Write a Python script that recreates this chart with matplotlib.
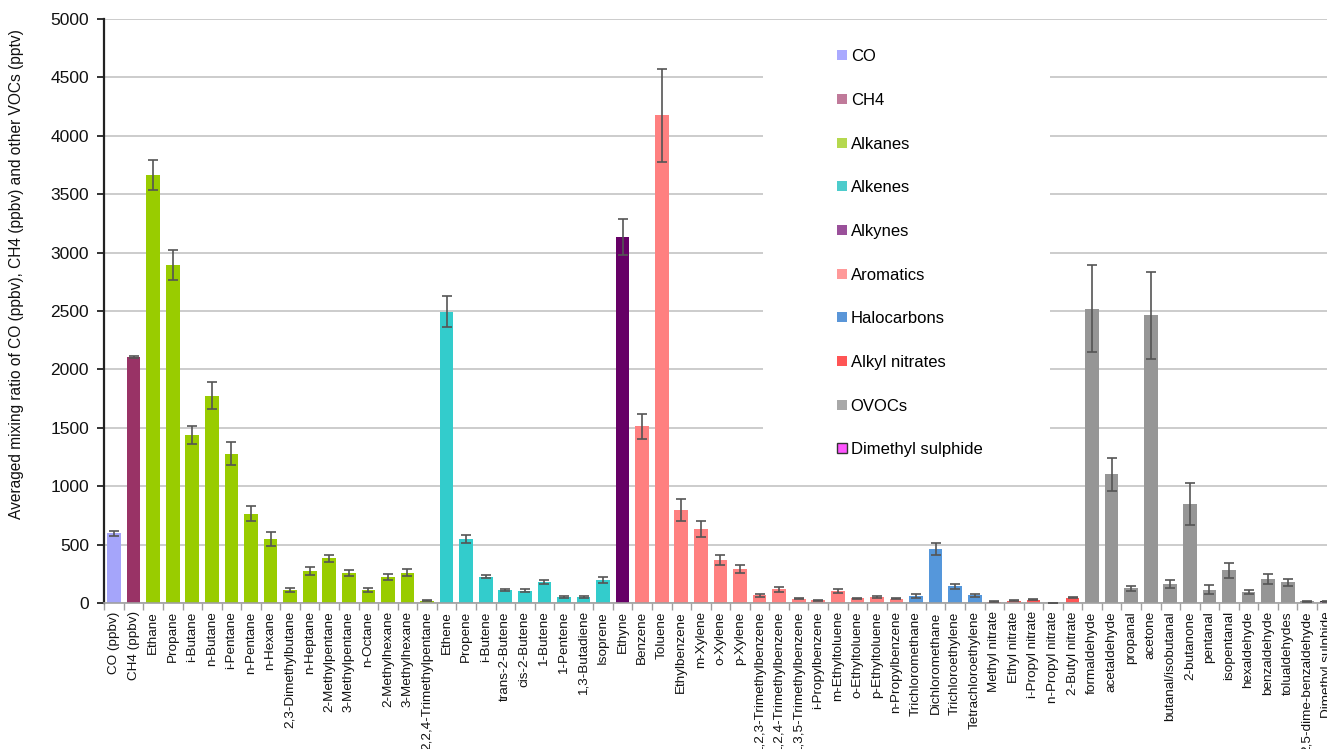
import matplotlib.pyplot as plt
from matplotlib.patches import Patch, Rectangle

plt.rcParams['font.family'] = ['Liberation Sans', 'DejaVu Sans']

# species, mean mixing ratio and error
species = ['CO (ppbv)', 'CH4 (ppbv)', 'Ethane', 'Propane', 'i-Butane', 'n-Butane',
           'i-Pentane', 'n-Pentane', 'n-Hexane', '2,3-Dimethylbutane', 'n-Heptane',
           '2-Methylpentane', '3-Methylpentane', 'n-Octane', '2-Methylhexane',
           '3-Methylhexane', '2,2,4-Trimethylpentane', 'Ethene', 'Propene', 'i-Butene',
           'trans-2-Butene', 'cis-2-Butene', '1-Butene', '1-Pentene', '1,3-Butadiene',
           'Isoprene', 'Ethyne', 'Benzene', 'Toluene', 'Ethylbenzene', 'm-Xylene',
           'o-Xylene', 'p-Xylene', '1,2,3-Trimethylbenzene', '1,2,4-Trimethylbenzene',
           '1,3,5-Trimethylbenzene', 'i-Propylbenzene', 'm-Ethyltoluene', 'o-Ethyltoluene',
           'p-Ethyltoluene', 'n-Propylbenzene', 'Trichloromethane', 'Dichloromethane',
           'Trichloroethylene', 'Tetrachloroethylene', 'Methyl nitrate', 'Ethyl nitrate',
           'i-Propyl nitrate', 'n-Propyl nitrate', '2-Butyl nitrate', 'formaldehyde',
           'acetaldehyde', 'propanal', 'acetone', 'butanal/isobutanal', '2-butanone',
           'pentanal', 'isopentanal', 'hexaldehyde', 'benzaldehyde', 'tolualdehydes',
           '2,5-dime-benzaldehyde', 'Dimethyl sulphide']

values = [598, 2106, 3664, 2891, 1438, 1775, 1279, 765, 551, 111, 274, 383, 260, 111,
          223, 257, 18, 2495, 548, 225, 111, 105, 177, 49, 49, 200, 3131, 1515, 4175,
          796, 631, 368, 291, 68, 117, 37, 23, 103, 40, 51, 37, 60, 460, 143, 66, 12,
          20, 26, 2, 46, 2520, 1102, 125, 2463, 163, 850, 114, 280, 91, 208, 177, 14, 14]

errors = [22, 12, 128, 128, 75, 113, 98, 63, 60, 14, 36, 28, 26, 14, 24, 30, 4, 135,
          31, 13, 12, 12, 16, 7, 7, 26, 154, 107, 400, 91, 67, 44, 36, 13, 20, 5, 4,
          18, 5, 7, 5, 14, 50, 21, 13, 3, 4, 4, 1, 4, 374, 141, 23, 371, 34, 180, 37,
          66, 18, 43, 31, 4, 3]

groups = (['CO', 'CH4'] + ['Alkanes'] * 15 + ['Alkenes'] * 9 + ['Alkynes']
          + ['Aromatics'] * 14 + ['Halocarbons'] * 4 + ['Alkyl nitrates'] * 5
          + ['OVOCs'] * 12 + ['Dimethyl sulphide'])

group_names = ['CO', 'CH4', 'Alkanes', 'Alkenes', 'Alkynes', 'Aromatics',
               'Halocarbons', 'Alkyl nitrates', 'OVOCs', 'Dimethyl sulphide']
bar_colors = {'CO': '#a5a5fa', 'CH4': '#993366', 'Alkanes': '#99cc00',
              'Alkenes': '#33cccc', 'Alkynes': '#660066', 'Aromatics': '#ff8080',
              'Halocarbons': '#5597db', 'Alkyl nitrates': '#ff5555',
              'OVOCs': '#969696', 'Dimethyl sulphide': '#ff33ff'}
legend_colors = {'CO': '#aaaaff', 'CH4': '#c07a9a', 'Alkanes': '#b5d84e',
                 'Alkenes': '#4dcccc', 'Alkynes': '#9a509a', 'Aromatics': '#ff9999',
                 'Halocarbons': '#5a96d8', 'Alkyl nitrates': '#ff5555',
                 'OVOCs': '#a8a8a8', 'Dimethyl sulphide': '#ff55ff'}

W, H = 1327, 749
fig = plt.figure(figsize=(W / 100, H / 100), dpi=100)
# axes runs past the right edge, like the cropped original
ax = fig.add_axes([104.3 / W, 1 - 603 / H, 63 * 19.56 / W, 584 / H])

x = list(range(len(species)))
colors = [bar_colors[g] for g in groups]
edges = ['#333333' if g == 'Dimethyl sulphide' else 'none' for g in groups]
ax.bar(x, values, width=0.7, color=colors, edgecolor=edges, linewidth=0.8, zorder=2)
ax.errorbar(x, values, yerr=errors, fmt='none', ecolor='#555555', elinewidth=1.2,
            capsize=3.5, capthick=1.2, zorder=3)

ax.set_xlim(-0.5, len(species) - 0.5)
ax.set_ylim(0, 5000)
ax.set_yticks(range(0, 5001, 500))
ax.set_axisbelow(True)
ax.yaxis.grid(True, color='#c8c8c8', linewidth=1.3)

ax.set_xticks(x)
ax.set_xticklabels(species, rotation=90, fontsize=9.7, color='#111111')
ax.set_xticks([i - 0.5 for i in range(len(species) + 1)], minor=True)
ax.tick_params(axis='x', which='major', length=0, pad=6)
ax.tick_params(axis='x', which='minor', length=5, color='#a0a0a0', width=1)
ax.tick_params(axis='y', length=5, width=1.2, labelsize=12.5, colors='#111111', pad=6)

for s in ['top', 'right']:
    ax.spines[s].set_visible(False)
ax.spines['left'].set_color('#222222')
ax.spines['left'].set_linewidth(1.6)
ax.spines['bottom'].set_color('#a0a0a0')
ax.spines['bottom'].set_linewidth(1.2)

ax.set_ylabel('Averaged mixing ratio of CO (ppbv), CH4 (ppbv) and other VOCs (pptv)',
              fontsize=11.2, color='#111111')
ax.yaxis.set_label_coords(-0.065, 0.5625)

# white box behind the legend hides the gridlines there
ax.add_patch(Rectangle((763 / W, 1 - 475 / H), 287 / W, 450 / H, transform=fig.transFigure,
                       facecolor='white', edgecolor='none', zorder=1))

handles = [Patch(facecolor=legend_colors[g],
                 edgecolor='#333333' if g == 'Dimethyl sulphide' else 'none')
           for g in group_names]
fig.legend(handles, group_names, loc='upper left', bbox_to_anchor=(829 / W, 1 - 41 / H),
           frameon=False, fontsize=12, handlelength=0.55, handleheight=0.55,
           handletextpad=0.25, labelspacing=1.72, borderpad=0)

fig.savefig('out.png', dpi=100)
